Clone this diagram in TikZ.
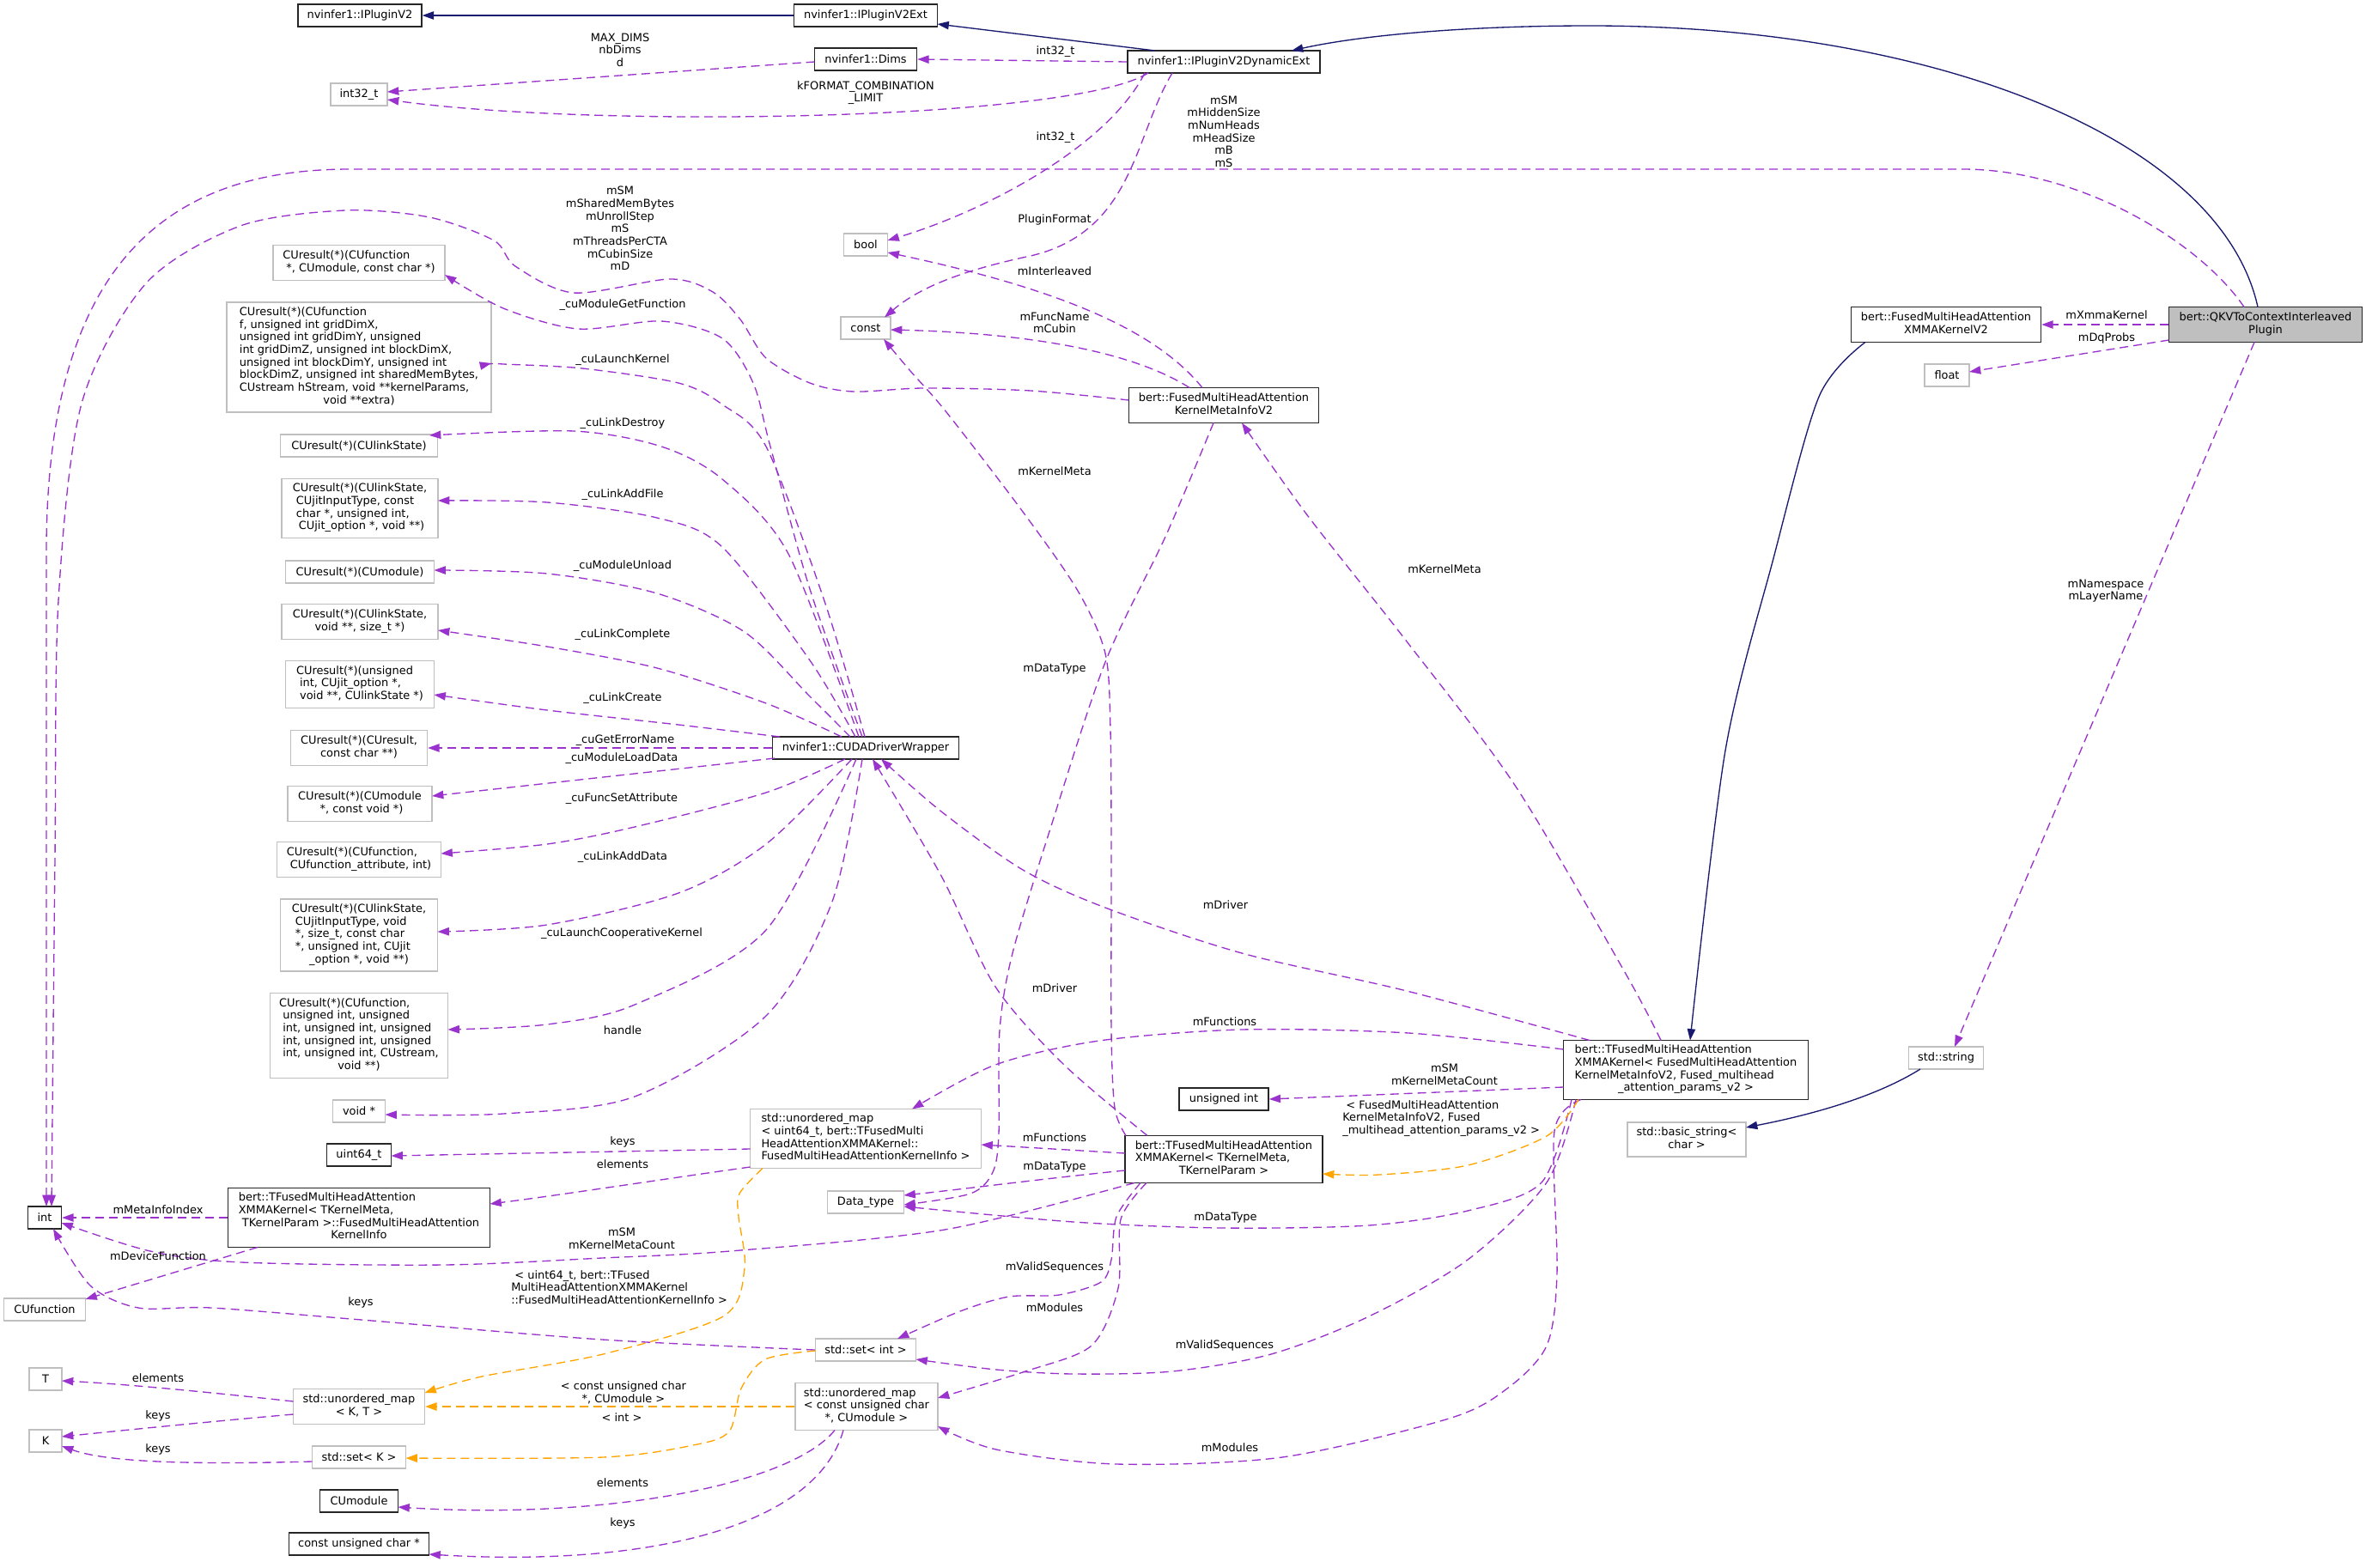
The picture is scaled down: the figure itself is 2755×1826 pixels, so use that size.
\documentclass[tikz,border=0pt]{standalone}
\usepackage{fontspec}
\setmainfont{DejaVu Sans}
\usetikzlibrary{arrows.meta,calc}
\definecolor{purp}{HTML}{9A32CD}
\definecolor{navyb}{HTML}{191970}
\definecolor{orng}{HTML}{FFA500}
\definecolor{gry}{HTML}{BFBFBF}
\newcommand\dfont{\fontsize{9.7pt}{11pt}\selectfont}
\newcommand\LC[2]{\begin{tabular}{@{}l@{}}#1\\\multicolumn{1}{@{}c@{}}{#2}\end{tabular}}
\tikzset{
  base/.style={rectangle, inner sep=0pt, font=\dfont, fill=white, align=center},
  doc/.style={base, draw=black!85, line width=1.1pt},
  undoc/.style={base, draw=gry, line width=1pt},
  sz/.style 2 args={minimum width=#1*0.75pt, minimum height=#2*0.75pt},
  lbl/.style={inner sep=0pt, font=\dfont, align=center},
  usee/.style={-{Triangle[length=10pt,width=7pt]}, draw=purp, line width=1pt, dash pattern=on 7.5pt off 4.5pt},
  inhe/.style={-{Triangle[length=10pt,width=7pt]}, draw=navyb, line width=1pt},
  tple/.style={-{Triangle[length=10pt,width=7pt]}, draw=orng, line width=1pt, dash pattern=on 7.5pt off 4.5pt}
}
\begin{document}
\begin{tikzpicture}[x=0.75pt,y=-0.75pt]
\fill[white] (0,0) rectangle (2755,1826);
\path[use as bounding box] (0,0) rectangle (2755,1826);

% ---------- nodes ----------
\node[doc,sz={144}{26}] (ipv2) at (419,18) {nvinfer1::IPluginV2};
\node[doc,sz={167}{26}] (ipv2ext) at (1008,18) {nvinfer1::IPluginV2Ext};
\node[doc,sz={119}{26}] (dims) at (1008,69) {nvinfer1::Dims};
\node[doc,sz={224}{26}] (dyn) at (1425,72) {nvinfer1::IPluginV2DynamicExt};
\node[undoc,sz={66}{26}] (int32) at (418,110) {int32\_t};
\node[doc,sz={225}{41},fill=gry] (qkv) at (2638,378) {\LC{bert::QKVToContextInterleaved}{Plugin}};
\node[doc,sz={221}{41}] (xmma) at (2266,378) {\LC{bert::FusedMultiHeadAttention}{XMMAKernelV2}};
\node[undoc,sz={52}{26}] (flt) at (2267,437) {float};
\node[undoc,sz={51}{26}] (bool) at (1008,285) {bool};
\node[undoc,sz={58}{26}] (cnst) at (1008,382) {const};
\node[doc,sz={221}{41}] (kmi) at (1425,472) {\LC{bert::FusedMultiHeadAttention}{KernelMetaInfoV2}};

\node[undoc,sz={200}{41}] (cu1) at (418,306) {\LC{CUresult(*)(CUfunction}{\ *, CUmodule, const char *)}};
\node[undoc,sz={308}{128}] (cu2) at (418,416) {\LC{CUresult(*)(CUfunction\\f, unsigned int gridDimX,\\unsigned int gridDimY, unsigned\\int gridDimZ, unsigned int blockDimX,\\unsigned int blockDimY, unsigned int\\blockDimZ, unsigned int sharedMemBytes,\\CUstream hStream, void **kernelParams,}{void **extra)}};
\node[undoc,sz={183}{26}] (cu3) at (418,519) {CUresult(*)(CUlinkState)};
\node[undoc,sz={182}{69}] (cu4) at (419,592) {\LC{CUresult(*)(CUlinkState,\\\ CUjitInputType, const\\\ char *, unsigned int,}{\ CUjit\_option *, void **)}};
\node[undoc,sz={173}{26}] (cu5) at (419,666) {CUresult(*)(CUmodule)};
\node[undoc,sz={182}{41}] (cu6) at (419,724) {\LC{CUresult(*)(CUlinkState,}{void **, size\_t *)}};
\node[undoc,sz={173}{55}] (cu7) at (419,797) {\LC{CUresult(*)(unsigned\\\ int, CUjit\_option *,}{\ void **, CUlinkState *)}};
\node[undoc,sz={159}{41}] (cu8) at (418,871) {\LC{CUresult(*)(CUresult,}{const char **)}};
\node[doc,sz={217}{26}] (cdw) at (1008,871) {nvinfer1::CUDADriverWrapper};
\node[undoc,sz={168}{41}] (cu9) at (419,936) {\LC{CUresult(*)(CUmodule}{\ *, const void *)}};
\node[undoc,sz={191}{41}] (cu10) at (418,1001) {\LC{CUresult(*)(CUfunction,}{\ CUfunction\_attribute, int)}};
\node[undoc,sz={183}{84}] (cu11) at (418,1089) {\LC{CUresult(*)(CUlinkState,\\\ CUjitInputType, void\\\ *, size\_t, const char\\\ *, unsigned int, CUjit}{\_option *, void **)}};
\node[undoc,sz={207}{99}] (cu12) at (418,1206) {\LC{CUresult(*)(CUfunction,\\\ unsigned int, unsigned\\\ int, unsigned int, unsigned\\\ int, unsigned int, unsigned\\\ int, unsigned int, CUstream,}{void **)}};
\node[undoc,sz={61}{26}] (voidp) at (418,1294) {void *};
\node[doc,sz={75}{26}] (u64) at (418,1345) {uint64\_t};
\node[undoc,sz={269}{69}] (umap64) at (1008,1326) {\LC{std::unordered\_map\\< uint64\_t, bert::TFusedMulti\\HeadAttentionXMMAKernel::}{FusedMultiHeadAttentionKernelInfo >}};
\node[doc,sz={305}{69}] (kinfo) at (418,1418) {\LC{bert::TFusedMultiHeadAttention\\XMMAKernel< TKernelMeta,\\\ TKernelParam >::FusedMultiHeadAttention}{KernelInfo}};
\node[doc,sz={39}{26}] (int) at (52,1418) {int};
\node[undoc,sz={95}{26}] (cufn) at (52,1525) {CUfunction};
\node[undoc,sz={89}{26}] (dtype) at (1008,1400) {Data\_type};
\node[doc,sz={104}{26}] (uint) at (1425,1280) {unsigned int};
\node[doc,sz={230}{55}] (tfk) at (1425,1350) {\LC{bert::TFusedMultiHeadAttention\\XMMAKernel< TKernelMeta,}{TKernelParam >}};
\node[doc,sz={285}{69}] (tfv2) at (1963,1246) {\LC{bert::TFusedMultiHeadAttention\\XMMAKernel< FusedMultiHeadAttention\\KernelMetaInfoV2, Fused\_multihead}{\_attention\_params\_v2 >}};
\node[undoc,sz={87}{26}] (str) at (2266,1232) {std::string};
\node[undoc,sz={138}{40}] (bstr) at (1964,1327) {\LC{std::basic\_string<}{char >}};
\node[undoc,sz={117}{26}] (seti) at (1008,1572) {std::set< int >};
\node[undoc,sz={166}{55}] (umapcu) at (1009,1638) {\LC{std::unordered\_map\\< const unsigned char}{*, CUmodule >}};
\node[undoc,sz={38}{26}] (T) at (53,1606) {T};
\node[undoc,sz={38}{26}] (K) at (53,1678) {K};
\node[undoc,sz={153}{41}] (umapkt) at (418,1638) {\LC{std::unordered\_map}{< K, T >}};
\node[undoc,sz={109}{26}] (setk) at (418,1697) {std::set< K >};
\node[doc,sz={91}{26}] (cumod) at (418,1748) {CUmodule};
\node[doc,sz={163}{26}] (cuc) at (418,1798) {const unsigned char *};

% ---------- inheritance ----------
\draw[inhe] (ipv2ext.west) -- (ipv2.east);
\draw[inhe] ($(dyn)+(-80,-13)$) -- ($(ipv2ext)+(83.5,10)$);
\draw[inhe] ($(qkv)+(-9,-20.5)$) .. controls (2585,160) and (2250,30) .. (1852,30) .. controls (1700,30) and (1580,42) .. ($(dyn)+(79,-13)$);
\coordinate (s4) at ($(xmma)+(-94,20.5)$);
\coordinate (t4) at ($(tfv2)+(5,-34.5)$);
\draw[inhe] plot[smooth] coordinates {(s4) (2118,462) (2064,654) (2009,874) (t4)};
\draw[inhe] ($(str)+(-30,13)$) .. controls (2180,1280) and (2100,1300) .. ($(bstr)+(69,-14)$);

% ---------- QKV plugin members ----------
\draw[usee] (qkv.west) -- (xmma.east);
\draw[usee] ($(qkv)+(-112.5,18)$) -- ($(flt)+(26,-4)$);
\draw[usee] ($(qkv)+(-13,20.5)$) -- ($(str)+(10,-13)$);
\draw[usee] ($(qkv)+(-25,-20.5)$) .. controls (2560,280) and (2420,197) .. (2285,197) -- (408,197) .. controls (200,197) and (52,300) .. (54,650) -- ($(int)+(2,-13)$);

% ---------- IPluginV2DynamicExt / Dims ----------
\draw[usee] (dyn.west) -- (dims.east);
\draw[usee] ($(dyn)+(-88,13)$) .. controls (1250,140) and (700,150) .. ($(int32)+(33,6)$);
\draw[usee] ($(dims)+(-59.5,3)$) -- ($(int32)+(33,-3)$);
\draw[usee] ($(dyn)+(-92,13)$) .. controls (1290,170) and (1150,245) .. ($(bool)+(25.5,-5)$);
\draw[usee] ($(dyn)+(-60,13)$) .. controls (1320,160) and (1320,270) .. (1200,298) .. controls (1120,315) and (1070,335) .. ($(cnst)+(22,-12.5)$);

% ---------- KernelMetaInfoV2 ----------
\draw[usee] ($(kmi)+(-25,-20.5)$) .. controls (1350,390) and (1250,340) .. ($(bool)+(25.5,9)$);
\draw[usee] ($(kmi)+(-40,-20.5)$) .. controls (1320,410) and (1200,388) .. ($(cnst)+(29,2)$);
\coordinate (s17) at ($(kmi)+(-110.5,-6)$);
\coordinate (t17) at ($(int)+(8,-13)$);
\draw[usee] plot[smooth] coordinates {(s17) (1200,455) (1076,452) (994,456) (943,446) (892,417) (862,372) (830,340) (780,325) (668,341) (600,310) (575,280) (500,253) (402,245) (280,263) (170,330) (95,470) (68,700) (64,1000) (t17)};
\coordinate (s18) at ($(kmi)+(-12,20.5)$);
\coordinate (t18) at ($(dtype)+(44.5,3)$);
\draw[usee] plot[smooth] coordinates {(s18) (1357,625) (1287,771) (1223,965) (1179,1110) (1164,1200) (1163,1320) (1156,1365) (1130,1390) (t18)};

% ---------- CUDADriverWrapper ----------
\coordinate (s21) at ($(cdw)+(-4,-13)$);
\coordinate (t21) at ($(cu1)+(100,14)$);
\draw[usee] plot[smooth] coordinates {(s21) (943,686) (897,520) (877,446) (841,394) (770,374) (673,383) (586,359) (t21)};
\coordinate (s22) at ($(cdw)+(-1,-13)$);
\coordinate (t22) at ($(cu2)+(154,7)$);
\draw[usee] plot[smooth] coordinates {(s22) (960,700) (892,520) (841,471) (790,446) (678,429) (586,424) (t22)};
\coordinate (s23) at ($(cdw)+(-8,-13)$);
\coordinate (t23) at ($(cu3)+(82,-12)$);
\draw[usee] plot[smooth] coordinates {(s23) (918,645) (841,558) (770,520) (668,502) (t23)};
\coordinate (s24) at ($(cdw)+(-12,-13)$);
\coordinate (t24) at ($(cu4)+(91,-9)$);
\draw[usee] plot[smooth] coordinates {(s24) (943,769) (841,637) (765,603) (637,585) (t24)};
\coordinate (s25) at ($(cdw)+(-18,-13)$);
\coordinate (t25) at ($(cu5)+(86.5,-2)$);
\draw[usee] plot[smooth] coordinates {(s25) (943,811) (867,736) (765,691) (637,668) (t25)};
\coordinate (s26) at ($(cdw)+(-28,-13)$);
\coordinate (t26) at ($(cu6)+(91,10)$);
\draw[usee] plot[smooth] coordinates {(s26) (892,819) (765,778) (637,753) (t26)};
\coordinate (s27) at ($(cdw)+(-100,-13)$);
\coordinate (t27) at ($(cu7)+(86.5,12)$);
\draw[usee] plot[smooth] coordinates {(s27) (790,844) (637,827) (t27)};
\draw[usee] (cdw.west) -- (cu8.east);
\draw[usee] ($(cdw)+(-106,12)$) -- ($(cu9)+(84,-9)$);
\coordinate (s30) at ($(cdw)+(-24,13)$);
\coordinate (t30) at ($(cu10)+(95.5,-7)$);
\draw[usee] plot[smooth] coordinates {(s30) (892,923) (739,963) (637,983) (t30)};
\coordinate (s31) at ($(cdw)+(-16,13)$);
\coordinate (t31) at ($(cu11)+(91.5,-4)$);
\draw[usee] plot[smooth] coordinates {(s31) (892,983) (790,1040) (637,1077) (t31)};
\coordinate (s32) at ($(cdw)+(-11,13)$);
\coordinate (t32) at ($(cu12)+(103.5,-7)$);
\draw[usee] plot[smooth] coordinates {(s32) (892,1083) (739,1170) (637,1193) (t32)};
\coordinate (s33) at ($(cdw)+(-4,13)$);
\coordinate (t33) at ($(voidp)+(30.5,4)$);
\draw[usee] plot[smooth] coordinates {(s33) (969,1050) (892,1183) (739,1277) (586,1297) (t33)};

% ---------- unordered_map<uint64_t,...> / KernelInfo ----------
\draw[usee] ($(umap64)+(-134.5,12)$) -- ($(u64)+(37.5,1)$);
\draw[usee] ($(umap64)+(-134.5,33)$) .. controls (780,1372) and (650,1392) .. ($(kinfo)+(152.5,-16)$);
\draw[usee] (kinfo.west) -- (int.east);
\draw[usee] ($(kinfo)+(-118,34.5)$) -- ($(cufn)+(47.5,-12)$);

% ---------- TFused<TKernelMeta,TKernelParam> ----------
\draw[usee] ($(tfk)+(-115,-7)$) -- ($(umap64)+(134.5,7)$);
\draw[usee] ($(tfk)+(-115,13)$) .. controls (1220,1372) and (1120,1385) .. ($(dtype)+(44.5,-8)$);
\coordinate (s38) at ($(tfk)+(-104,27.5)$);
\coordinate (t38) at ($(int)+(19.5,6)$);
\draw[usee] plot[smooth] coordinates {(s38) (1100,1432) (850,1457) (701,1465) (517,1473) (281,1470) (175,1457) (t38)};
\coordinate (s44) at ($(tfk)+(-114,-27.5)$);
\coordinate (t44) at ($(cnst)+(21,13)$);
\draw[usee] plot[smooth] coordinates {(s44) (1298,1290) (1294,1200) (1294,1000) (1293,850) (1287,761) (1255,688) (1191,596) (1102,480) (1060,432) (t44)};
\coordinate (s47) at ($(tfk)+(-89,-27.5)$);
\coordinate (t47) at ($(cdw)+(8,13)$);
\draw[usee] plot[smooth] coordinates {(s47) (1239,1240) (1159,1149) (1096,1020) (t47)};
\coordinate (s48) at ($(tfk)+(-97,27.5)$);
\coordinate (t48) at ($(seti)+(37,-13)$);
\draw[usee] plot[smooth] coordinates {(s48) (1300,1417) (1294,1467) (1282,1493) (1233,1508) (1175,1510) (1118,1527) (t48)};
\coordinate (s49) at ($(tfk)+(-90,27.5)$);
\coordinate (t49) at ($(umapcu)+(83,-10)$);
\draw[usee] plot[smooth] coordinates {(s49) (1305,1420) (1302,1500) (1271,1567) (1194,1597) (t49)};

% ---------- TFused<KernelMetaInfoV2,...> ----------
\coordinate (s41) at ($(tfv2)+(-142.5,-24)$);
\coordinate (t41) at ($(umap64)+(54,-34.5)$);
\draw[usee] plot[smooth] coordinates {(s41) (1640,1203) (1446,1199) (1280,1212) (1159,1240) (t41)};
\draw[usee] ($(tfv2)+(-142.5,20)$) -- (uint.east);
\coordinate (s45) at ($(tfv2)+(-29,-34.5)$);
\coordinate (t45) at ($(kmi)+(21,20.5)$);
\draw[usee] plot[smooth] coordinates {(s45) (1893,1134) (1765,916) (1638,747) (1523,601) (t45)};
\coordinate (s46) at ($(tfv2)+(-112,-34.5)$);
\coordinate (t46) at ($(cdw)+(18,13)$);
\draw[usee] plot[smooth] coordinates {(s46) (1638,1154) (1446,1110) (1287,1057) (1191,1013) (1096,945) (t46)};
\coordinate (s20) at ($(tfv2)+(-133,34.5)$);
\coordinate (t20) at ($(dtype)+(44.5,5)$);
\draw[usee] plot[smooth] coordinates {(s20) (1795,1377) (1709,1410) (1594,1427) (1422,1430) (1250,1423) (t20)};
\coordinate (s50) at ($(tfv2)+(-128,34.5)$);
\coordinate (t50) at ($(seti)+(58.5,11)$);
\draw[usee] plot[smooth] coordinates {(s50) (1801,1377) (1709,1467) (1594,1533) (1480,1577) (1365,1597) (1250,1600) (1160,1595) (t50)};
\coordinate (s51) at ($(tfv2)+(-122,34.5)$);
\coordinate (t51) at ($(umapcu)+(83,23)$);
\draw[usee] plot[smooth] coordinates {(s51) (1810,1317) (1813,1483) (1801,1567) (1755,1617) (1687,1652) (1493,1697) (1300,1705) (1160,1688) (t51)};
\coordinate (s43) at ($(tfv2)+(-125,34.5)$);
\coordinate (t43) at ($(tfk)+(115,17)$);
\draw[tple] plot[smooth] coordinates {(s43) (1801,1323) (1709,1357) (1606,1368) (t43)};

% ---------- containers / templates ----------
\draw[usee] ($(umapkt)+(-76.5,-6)$) .. controls (250,1622) and (150,1612) .. ($(T)+(19,2)$);
\draw[usee] ($(umapkt)+(-76.5,9)$) .. controls (250,1655) and (150,1665) .. ($(K)+(19,-5)$);
\draw[usee] ($(setk)+(-54.5,5)$) .. controls (250,1705) and (130,1705) .. ($(K)+(19,6)$);
\draw[usee] ($(umapcu)+(-37,27.5)$) .. controls (920,1730) and (700,1770) .. ($(cumod)+(45.5,7)$);
\draw[usee] ($(umapcu)+(-27,27.5)$) .. controls (950,1780) and (750,1825) .. ($(cuc)+(81.5,12)$);
\coordinate (s39) at (seti.west);
\coordinate (t39) at ($(int)+(10,13)$);
\draw[usee] plot[smooth] coordinates {(s39) (701,1560) (421,1537) (246,1523) (161,1523) (105,1497) (t39)};
\coordinate (s57) at ($(umap64)+(-120,34.5)$);
\coordinate (t57) at ($(umapkt)+(76.5,-16)$);
\draw[tple] plot[smooth] coordinates {(s57) (861,1390) (860,1417) (867,1477) (842,1533) (702,1577) (561,1603) (t57)};
\draw[tple] (umapcu.west) -- (umapkt.east);
\coordinate (s59) at ($(seti)+(-58.5,1)$);
\coordinate (t59) at ($(setk)+(54.5,1)$);
\draw[tple] plot[smooth] coordinates {(s59) (891,1583) (863,1617) (849,1667) (807,1683) (702,1697) (t59)};

% ---------- labels ----------
\node[lbl] (la1) at (722,58) {MAX\_DIMS\\nbDims\\d};
\node[lbl] (la2) at (1229,60) {int32\_t};
\node[lbl] (la3) at (1008,108) {kFORMAT\_COMBINATION\\\_LIMIT};
\node[lbl] (la4) at (1229,160) {int32\_t};
\node[lbl] (la5) at (1425,153) {mSM\\mHiddenSize\\mNumHeads\\mHeadSize\\mB\\mS};
\node[lbl] (la6) at (722,266) {mSM\\mSharedMemBytes\\mUnrollStep\\mS\\mThreadsPerCTA\\mCubinSize\\mD};
\node[lbl] (la7) at (1228,256) {PluginFormat};
\node[lbl] (la8) at (1228,316) {mInterleaved};
\node[lbl] (la9) at (1228,376) {mFuncName\\mCubin};
\node[lbl] (la10) at (2453,367) {mXmmaKernel};
\node[lbl] (la11) at (2453,394) {mDqProbs};
\node[lbl] (la12) at (2452,688) {mNamespace\\mLayerName};
\node[lbl] (la13) at (1228,549) {mKernelMeta};
\node[lbl] (la14) at (1682,663) {mKernelMeta};
\node[lbl] (la15) at (1228,779) {mDataType};
\node[lbl] (la16) at (1427,1054) {mDriver};
\node[lbl] (la17) at (1228,1151) {mDriver};
\node[lbl] (la18) at (1426,1190) {mFunctions};
\node[lbl] (la19) at (1228,1325) {mFunctions};
\node[lbl] (la20) at (1228,1359) {mDataType};
\node[lbl] (la21) at (1427,1418) {mDataType};
\node[lbl] (la22) at (1228,1476) {mValidSequences};
\node[lbl] (la23) at (1228,1523) {mModules};
\node[lbl] (la24) at (1426,1567) {mValidSequences};
\node[lbl] (la25) at (1432,1686) {mModules};
\node[lbl] (la26) at (1682,1251) {mSM\\mKernelMetaCount};
\node[lbl,anchor=west] (la27) at (1563,1303) {\LC{\ < FusedMultiHeadAttention\\KernelMetaInfoV2, Fused}{\_multihead\_attention\_params\_v2 >}};
\node[lbl] (la28) at (724,1442) {mSM\\mKernelMetaCount};
\node[lbl] (la29) at (184,1409) {mMetaInfoIndex};
\node[lbl] (la30) at (184,1463) {mDeviceFunction};
\node[lbl] (la31) at (725,1330) {keys};
\node[lbl] (la32) at (725,1356) {elements};
\node[lbl] (la33) at (420,1517) {keys};
\node[lbl,anchor=west] (la34) at (595,1501) {\LC{\ < uint64\_t, bert::TFused\\MultiHeadAttentionXMMAKernel}{::FusedMultiHeadAttentionKernelInfo >}};
\node[lbl] (la35) at (184,1605) {elements};
\node[lbl] (la36) at (184,1649) {keys};
\node[lbl] (la37) at (184,1688) {keys};
\node[lbl] (la38) at (726,1623) {\LC{< const unsigned char}{*, CUmodule >}};
\node[lbl] (la39) at (724,1651) {< int >};
\node[lbl] (la40) at (725,1727) {elements};
\node[lbl] (la41) at (725,1774) {keys};
\node[lbl] (lc1) at (725,355) {\_cuModuleGetFunction};
\node[lbl] (lc2) at (725,419) {\_cuLaunchKernel};
\node[lbl] (lc3) at (725,493) {\_cuLinkDestroy};
\node[lbl] (lc4) at (725,576) {\_cuLinkAddFile};
\node[lbl] (lc5) at (725,659) {\_cuModuleUnload};
\node[lbl] (lc6) at (725,739) {\_cuLinkComplete};
\node[lbl] (lc7) at (725,813) {\_cuLinkCreate};
\node[lbl] (lc8) at (728,862) {\_cuGetErrorName};
\node[lbl] (lc9) at (724,883) {\_cuModuleLoadData};
\node[lbl] (lc10) at (724,930) {\_cuFuncSetAttribute};
\node[lbl] (lc11) at (725,998) {\_cuLinkAddData};
\node[lbl] (lc12) at (724,1087) {\_cuLaunchCooperativeKernel};
\node[lbl] (lc13) at (725,1200) {handle};
\end{tikzpicture}
\end{document}
